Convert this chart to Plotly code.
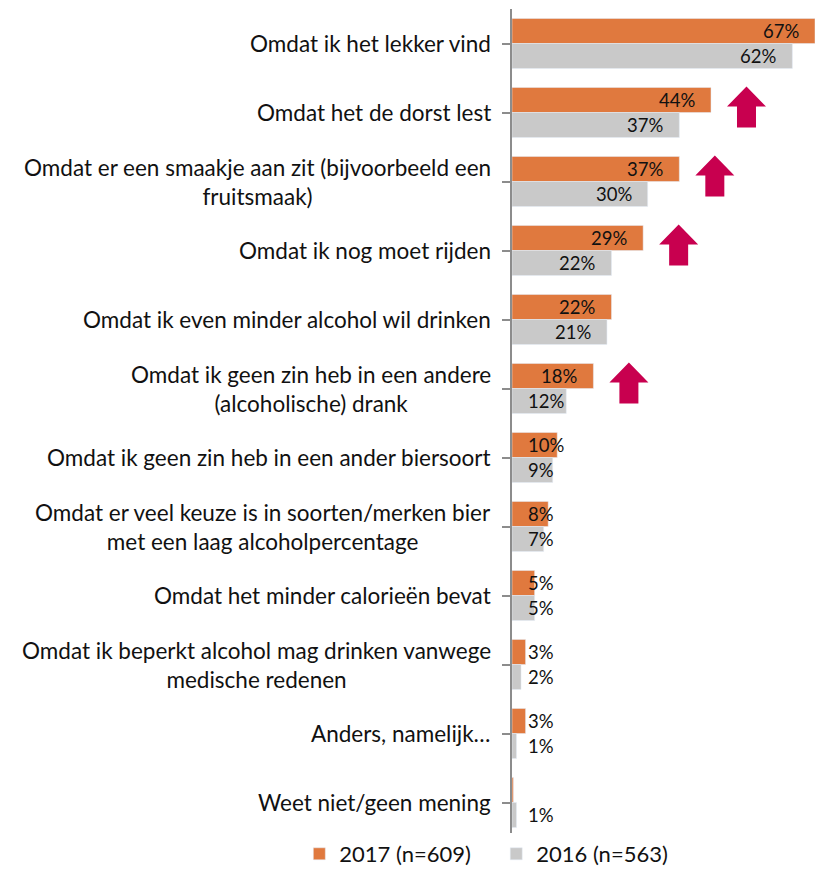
import plotly.graph_objects as go

categories = [
    "Omdat ik het lekker vind",
    "Omdat het de dorst lest",
    "Omdat er een smaakje aan zit (bijvoorbeeld een<br>fruitsmaak)",
    "Omdat ik nog moet rijden",
    "Omdat ik even minder alcohol wil drinken",
    "Omdat ik geen zin heb in een andere<br>(alcoholische) drank",
    "Omdat ik geen zin heb in een ander biersoort",
    "Omdat er veel keuze is in soorten/merken bier<br>met een laag alcoholpercentage",
    "Omdat het minder calorieën bevat",
    "Omdat ik beperkt alcohol mag drinken vanwege<br>medische redenen",
    "Anders, namelijk…",
    "Weet niet/geen mening",
]
v2017 = [67, 44, 37, 29, 22, 18, 10, 8, 5, 3, 3, 0.3]
v2016 = [62, 37, 30, 22, 21, 12, 9, 7, 5, 2, 1, 1]
arrow_rows = [1, 2, 3, 5]  # significant increase vs 2016

ORANGE = "#E0793E"
GREY = "#C9C9C9"
ARROW = "#C8004F"
FONT = "Lato"

idx = list(range(len(categories)))

fig = go.Figure()
fig.add_trace(go.Bar(y=idx, x=v2017, orientation="h", name="2017 (n=609)",
                     marker=dict(color=ORANGE), legend="legend"))
fig.add_trace(go.Bar(y=idx, x=v2016, orientation="h", name="2016 (n=563)",
                     marker=dict(color=GREY), legend="legend2"))

bargap = 0.275
off = (1 - bargap) / 4

# category labels, centred lines, right edge next to the axis
for i, c in enumerate(categories):
    fig.add_annotation(x=0, xref="paper", y=i, yref="y", text=c, showarrow=False,
                       xanchor="right", align="center", xshift=-19,
                       font=dict(family=FONT, size=22.5, color="#111"))

# data labels: inside end when there is room, otherwise pinned near the axis
for vals, dy in ((v2017, -off), (v2016, off)):
    for i, v in enumerate(vals):
        if v < 1:
            continue
        t = f"{round(v)}%"
        if v >= 14:
            fig.add_annotation(x=v, y=i + dy, text=t, showarrow=False,
                               xanchor="right", xshift=-14,
                               font=dict(family=FONT, size=18.5, color="#111"))
        else:
            fig.add_annotation(x=0, y=i + dy, text=t, showarrow=False,
                               xanchor="left", xshift=14,
                               font=dict(family=FONT, size=18.5, color="#111"))

# block arrows
for i in arrow_rows:
    fig.add_shape(type="path", xref="x", yref="y", xsizemode="pixel", ysizemode="pixel",
                  xanchor=v2017[i], yanchor=i,
                  path="M 26 -15 L 45 -15 L 45 6 L 55 6 L 35.5 26 L 16 6 L 26 6 Z",
                  fillcolor=ARROW, line=dict(width=0))

leg = dict(orientation="h", xref="container", xanchor="left",
           yref="container", y=0.0163, yanchor="middle",
           font=dict(family=FONT, size=22), itemwidth=30)
fig.update_layout(
    width=807, height=860,
    margin=dict(l=504, r=0, t=1, b=31, autoexpand=False),
    barmode="group", bargap=bargap, bargroupgap=0,
    plot_bgcolor="white", paper_bgcolor="white",
    font=dict(family=FONT, size=22, color="#111"),
    showlegend=True,
    legend=dict(leg, x=0.361),
    legend2=dict(leg, x=0.605),
)
fig.update_xaxes(range=[0, 67], visible=False)
fig.update_yaxes(autorange="reversed", showticklabels=False,
                 tickmode="array", tickvals=idx, showgrid=False, zeroline=False,
                 showline=True, linecolor="#8c8c8c", linewidth=2,
                 ticks="outside", ticklen=8, tickcolor="#8c8c8c", tickwidth=2,
                 tickson="boundaries")

fig.write_html("out.html")
